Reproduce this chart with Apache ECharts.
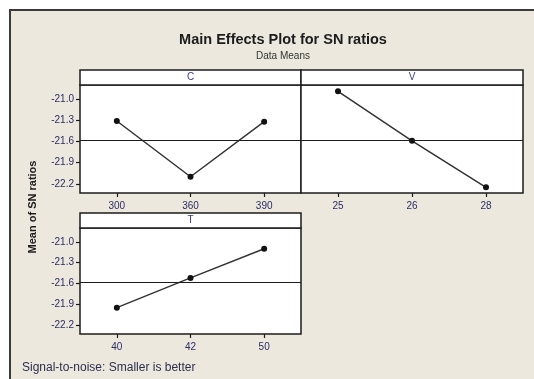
<!DOCTYPE html>
<html>
<head>
<meta charset="utf-8">
<script src="https://cdn.jsdelivr.net/npm/echarts@6/dist/echarts.min.js"></script>
<style>
  html, body { margin: 0; padding: 0; background: #ffffff; }
  #chart { width: 534px; height: 379px; }
</style>
</head>
<body>
<div id="chart"></div>
<script>
// Factor levels and mean SN ratio at each level
const factorNames = ['C', 'V', 'T'];
const levelsC = ['300', '360', '390'];
const levelsV = ['25', '26', '28'];
const levelsT = ['40', '42', '50'];
const snC = [-21.31, -22.10, -21.32];
const snV = [-20.89, -21.59, -22.25];
const snT = [-21.95, -21.52, -21.10];
const overallMean = -21.58;
const yTicks = [-21.0, -21.3, -21.6, -21.9, -22.2];

const FONT = 'Liberation Sans';
const INK = '#1c1c1c';
const LABEL = '#2c2c62';
const PANEL_BG = '#ece8de';

const panels = [
  { name: factorNames[0], levels: levelsC, values: snC, left: 80,  top: 85,  width: 221, height: 108, showY: true },
  { name: factorNames[1], levels: levelsV, values: snV, left: 301, top: 85,  width: 222, height: 108, showY: false },
  { name: factorNames[2], levels: levelsT, values: snT, left: 80,  top: 228, width: 221, height: 106, showY: true }
];

const grids = [], xAxes = [], yAxes = [], series = [], graphics = [];

// outer frame
graphics.push({
  type: 'rect', z: -10, silent: true,
  shape: { x: 10, y: 10, width: 600, height: 500 },
  style: { fill: PANEL_BG, stroke: '#3a3a3a', lineWidth: 2 }
});

panels.forEach((p, i) => {
  grids.push({
    left: p.left, top: p.top, width: p.width, height: p.height,
    show: true, backgroundColor: '#ffffff', borderColor: INK, borderWidth: 1.5
  });
  xAxes.push({
    type: 'category', gridIndex: i, data: p.levels, boundaryGap: true,
    axisLine: { show: false },
    axisTick: { show: true, alignWithLabel: true, length: 4, lineStyle: { color: INK, width: 1.2 } },
    axisLabel: { color: LABEL, fontFamily: FONT, fontSize: 10, margin: 8 },
    splitLine: { show: false }
  });
  yAxes.push({
    type: 'value', gridIndex: i, min: -22.33, max: -20.80,
    axisLine: { show: false },
    axisTick: { show: p.showY, length: 4, customValues: yTicks, lineStyle: { color: INK, width: 1.2 } },
    axisLabel: { show: p.showY, color: LABEL, fontFamily: FONT, fontSize: 10, margin: 6,
                 customValues: yTicks, formatter: v => v.toFixed(1) },
    splitLine: { show: false }
  });
  series.push({
    type: 'line', xAxisIndex: i, yAxisIndex: i, data: p.values,
    symbol: 'circle', symbolSize: 6,
    itemStyle: { color: '#111111' },
    lineStyle: { color: '#333333', width: 1.5 },
    markLine: {
      silent: true, symbol: 'none', label: { show: false },
      lineStyle: { color: INK, width: 1.2, type: 'solid' },
      data: [{ yAxis: overallMean }]
    },
    animation: false
  });
  // strip header above each panel
  graphics.push({
    type: 'rect', silent: true,
    shape: { x: p.left, y: p.top - 15, width: p.width, height: 15 },
    style: { fill: '#ffffff', stroke: INK, lineWidth: 1.5 }
  });
  graphics.push({
    type: 'text', silent: true,
    x: p.left + p.width / 2, y: p.top - 7.5,
    style: { text: p.name, fill: '#3a3a8c', font: '10px ' + FONT, align: 'center', verticalAlign: 'middle' }
  });
});

// y axis title
graphics.push({
  type: 'text', silent: true, x: 33, y: 207, rotation: Math.PI / 2,
  style: { text: 'Mean of SN ratios', fill: INK, font: 'bold 11px ' + FONT, align: 'center', verticalAlign: 'middle' }
});
// footnote
graphics.push({
  type: 'text', silent: true, x: 22, y: 368,
  style: { text: 'Signal-to-noise: Smaller is better', fill: '#2e2e4e', font: '12px ' + FONT, align: 'left', verticalAlign: 'middle' }
});

const chart = echarts.init(document.getElementById('chart'), null, { renderer: 'canvas' });
chart.setOption({
  animation: false,
  title: [
    { text: 'Main Effects Plot for SN ratios', left: 278, top: 27, textAlign: 'center',
      textStyle: { fontFamily: FONT, fontSize: 14.5, fontWeight: 'bold', color: INK } },
    { text: 'Data Means', left: 278, top: 46, textAlign: 'center',
      textStyle: { fontFamily: FONT, fontSize: 10, fontWeight: 'normal', color: '#333333' } }
  ],
  grid: grids,
  xAxis: xAxes,
  yAxis: yAxes,
  series: series,
  graphic: graphics
});
</script>
</body>
</html>
